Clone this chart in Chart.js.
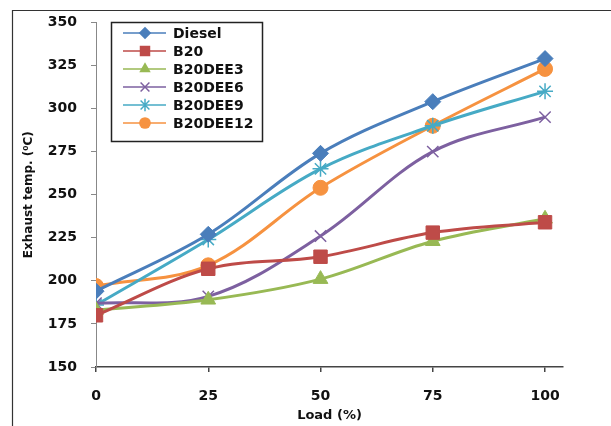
<!DOCTYPE html>
<html><head><meta charset="utf-8">
<script src="https://cdn.jsdelivr.net/npm/chart.js@4"></script>
<style>html,body{margin:0;padding:0;background:#fff;}#wrap{width:611px;height:426px;position:relative;}</style>
</head><body><div id="wrap"><canvas id="c" width="611" height="426"></canvas></div>
<script>
const loads = [0, 25, 50, 75, 100];
const xTicks = [0, 25, 50, 75, 100];
const seriesNames = ['Diesel', 'B20', 'B20DEE3', 'B20DEE6', 'B20DEE9', 'B20DEE12'];
const diesel   = [194, 227, 274, 304, 329];
const b20      = [180, 207, 214, 228, 234];
const b20dee3  = [183, 189, 201, 223, 236];
const b20dee6  = [187, 191, 226, 275, 295];
const b20dee9  = [186, 224, 265, 290, 310];
const b20dee12 = [197, 209, 254, 290, 323];
const yTicks = [150, 175, 200, 225, 250, 275, 300, 325, 350];

const values = [diesel, b20, b20dee3, b20dee6, b20dee9, b20dee12];
const colors = ['#4A7EBB', '#BE4B48', '#98B954', '#7D60A0', '#46AAC5', '#F69240'];
const styles = ['rectRot', 'rect', 'triangle', 'crossRot', 'star', 'circle'];
const radii  = [8, 9.5, 8.5, 8, 8, 7.5];

const datasets = seriesNames.map((n, i) => ({
  label: n,
  data: loads.map((x, j) => ({x: x, y: values[i][j]})),
  borderColor: colors[i],
  backgroundColor: colors[i],
  borderWidth: 3,
  tension: 0.35,
  pointStyle: styles[i],
  pointRadius: radii[i],
  pointHoverRadius: radii[i],
  pointBorderWidth: (styles[i] === 'crossRot' || styles[i] === 'star') ? 1.5 : 1,
  pointBackgroundColor: colors[i],
  pointBorderColor: colors[i]
}));

function drawMarker(ctx, style, x, y, r, color) {
  ctx.save();
  ctx.fillStyle = color; ctx.strokeStyle = color; ctx.lineWidth = 1.5;
  ctx.beginPath();
  if (style === 'circle') { ctx.arc(x, y, r, 0, Math.PI * 2); ctx.fill(); }
  else if (style === 'rect') { const s = r * Math.SQRT1_2; ctx.rect(x - s, y - s, 2 * s, 2 * s); ctx.fill(); }
  else if (style === 'rectRot') { ctx.moveTo(x - r, y); ctx.lineTo(x, y - r); ctx.lineTo(x + r, y); ctx.lineTo(x, y + r); ctx.closePath(); ctx.fill(); }
  else if (style === 'triangle') {
    for (let k = 0; k < 3; k++) { const a = -Math.PI / 2 + k * 2 * Math.PI / 3; const px = x + Math.cos(a) * r, py = y + Math.sin(a) * r; k ? ctx.lineTo(px, py) : ctx.moveTo(px, py); }
    ctx.closePath(); ctx.fill();
  }
  else if (style === 'crossRot') { const s = r * Math.SQRT1_2; ctx.moveTo(x - s, y - s); ctx.lineTo(x + s, y + s); ctx.moveTo(x + s, y - s); ctx.lineTo(x - s, y + s); ctx.stroke(); }
  else if (style === 'star') { const s = r * Math.SQRT1_2; ctx.moveTo(x - s, y - s); ctx.lineTo(x + s, y + s); ctx.moveTo(x + s, y - s); ctx.lineTo(x - s, y + s); ctx.moveTo(x, y - r); ctx.lineTo(x, y + r); ctx.stroke(); }
  ctx.restore();
}

const framePlugin = {
  id: 'frame',
  beforeDraw(chart) {
    const ctx = chart.ctx;
    ctx.save();
    ctx.strokeStyle = '#333'; ctx.lineWidth = 1.2;
    ctx.beginPath(); ctx.moveTo(12.5, 426); ctx.lineTo(12.5, 10.5); ctx.lineTo(611, 10.5); ctx.stroke();
    ctx.restore();
  },
  afterDraw(chart) {
    const ctx = chart.ctx;
    ctx.save();
    const bx = 111, by = 22, bw = 151, bh = 119;
    ctx.fillStyle = '#fff'; ctx.fillRect(bx, by, bw, bh);
    ctx.strokeStyle = '#222'; ctx.lineWidth = 1.5; ctx.strokeRect(bx + 0.5, by + 0.5, bw, bh);
    ctx.font = 'bold 14px "DejaVu Sans"'; ctx.textBaseline = 'middle'; ctx.fillStyle = '#111';
    seriesNames.forEach((n, i) => {
      const y = 33 + i * 18;
      ctx.strokeStyle = colors[i]; ctx.lineWidth = 1.5;
      ctx.beginPath(); ctx.moveTo(123, y); ctx.lineTo(166, y); ctx.stroke();
      drawMarker(ctx, styles[i], 145, y, radii[i] * 0.78, colors[i]);
      ctx.fillStyle = '#111';
      ctx.fillText(n, 173, y + 1);
    });
    ctx.restore();
  }
};

new Chart(document.getElementById('c'), {
  type: 'line',
  data: { datasets: datasets },
  plugins: [framePlugin],
  options: {
    responsive: false,
    animation: false,
    layout: { padding: { left: 0, top: 20, right: 48, bottom: 0 } },
    plugins: { legend: { display: false }, tooltip: { enabled: false } },
    scales: {
      x: {
        type: 'linear', min: 0, max: 104,
        afterBuildTicks: s => { s.ticks = xTicks.map(v => ({value: v})); },
        afterFit: s => { s.height = 59; },
        grid: { drawOnChartArea: false, tickLength: 5, color: '#444', lineWidth: 1.5 },
        border: { display: true, color: '#444', width: 1.5 },
        ticks: { color: '#111', font: { family: 'DejaVu Sans', weight: 'bold', size: 14 }, padding: 16, maxRotation: 0 },
        title: { display: true, text: 'Load (%)', color: '#111', font: { family: 'DejaVu Sans', weight: 'bold', size: 13 }, padding: { top: 0, bottom: 3 } }
      },
      y: {
        min: 150, max: 350,
        afterBuildTicks: s => { s.ticks = yTicks.map(v => ({value: v})); },
        afterFit: s => { s.width = 96; },
        grid: { drawOnChartArea: false, tickLength: 5, color: '#888', lineWidth: 1 },
        border: { display: true, color: '#888', width: 1 },
        ticks: { color: '#111', font: { family: 'DejaVu Sans', weight: 'bold', size: 14 }, padding: 14 },
        title: { display: true, text: 'Exhaust temp. (⁰C)', color: '#111', font: { family: 'DejaVu Sans', weight: 'bold', size: 12 }, padding: { top: 22, bottom: 0 } }
      }
    }
  }
});
</script></body></html>
